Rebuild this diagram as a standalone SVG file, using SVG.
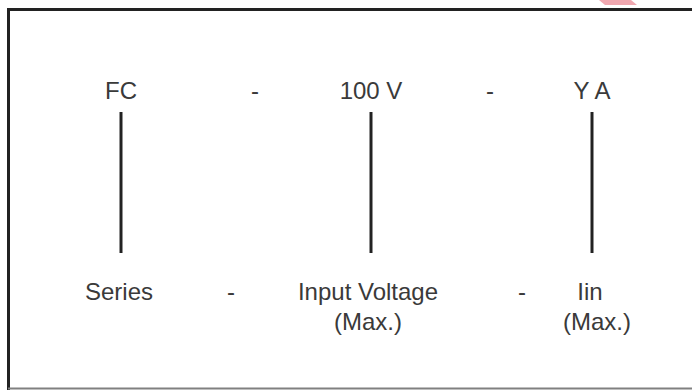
<svg xmlns="http://www.w3.org/2000/svg" width="692" height="390" viewBox="0 0 692 390">
<style>
.t{font-family:"Liberation Sans",Arial,sans-serif;font-size:24px;fill:#3a3a3a;text-anchor:middle}
.c{stroke:#222;stroke-width:3;fill:none}
</style>
<rect width="692" height="390" fill="#fff"/>
<polygon points="599,0 631,0 637,5 605,5" fill="#f0a8b0"/>
<g id="frame">
<line x1="7" y1="9.5" x2="692" y2="9.5" stroke="#222" stroke-width="3"/>
<line x1="8.5" y1="8" x2="8.5" y2="390" stroke="#222" stroke-width="3"/>
<line x1="8" y1="388.5" x2="692" y2="388.5" stroke="#808080" stroke-width="2"/>
</g>
<g id="code-series"><text class="t" x="121" y="99">FC</text></g>
<g id="sep1"><text class="t" x="255" y="99">-</text></g>
<g id="code-voltage"><text class="t" x="371" y="99">100 V</text></g>
<g id="sep2"><text class="t" x="490" y="99">-</text></g>
<g id="code-current"><text class="t" x="592" y="99">Y A</text></g>
<g id="connectors">
<line class="c" x1="121" y1="112" x2="121" y2="253"/>
<line class="c" x1="371" y1="112" x2="371" y2="253"/>
<line class="c" x1="592" y1="112" x2="592" y2="253"/>
</g>
<g id="label-series"><text class="t" x="119" y="300">Series</text></g>
<g id="sep3"><text class="t" x="231" y="300">-</text></g>
<g id="label-voltage"><text class="t" x="368" y="300">Input Voltage</text><text class="t" x="368" y="330">(Max.)</text></g>
<g id="sep4"><text class="t" x="522" y="300">-</text></g>
<g id="label-current"><text class="t" x="590" y="300">Iin</text><text class="t" x="597" y="330">(Max.)</text></g>
</svg>
